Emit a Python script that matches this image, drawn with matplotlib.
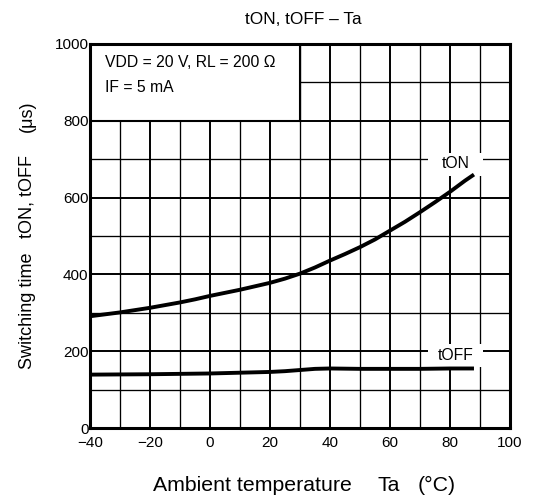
import matplotlib
matplotlib.use("Agg")
import matplotlib.pyplot as plt
from matplotlib.patches import Rectangle

plt.rcParams['font.family'] = ['Liberation Sans', 'DejaVu Sans']

# Data
ta = [-40, -35, -30, -25, -20, -15, -10, -5, 0, 5, 10, 15, 20, 25, 30, 35, 40,
      45, 50, 55, 60, 65, 70, 75, 80, 85, 88]
t_on = [291, 296, 301, 307, 313, 320, 327, 335, 344, 352, 360, 369, 378, 389, 402,
        418, 436, 453, 471, 491, 514, 537, 562, 588, 615, 644, 660]
ta_off = [-40, -20, 0, 10, 20, 25, 30, 35, 40, 50, 60, 70, 80, 88]
t_off = [139, 140, 142, 144, 146, 148, 151, 154, 155, 154, 154, 154, 155, 155]

xticks = [-40, -20, 0, 20, 40, 60, 80, 100]
xtick_labels = ['−40', '−20', '0', '20', '40', '60', '80', '100']
yticks = [0, 200, 400, 600, 800, 1000]

W, H = 534, 501
fig = plt.figure(figsize=(W / 100, H / 100), dpi=100)
ax = fig.add_axes([0.1685, 0.1457, 0.7865, 0.7665])
ax.set_xlim(-40, 100)
ax.set_ylim(0, 1000)

# grid
for x in range(-30, 100, 10):
    lw = 1.4 if x % 20 == 0 else 0.95
    ax.axvline(x, color='black', lw=lw, zorder=1)
for y in range(100, 1000, 100):
    lw = 1.4 if y % 200 == 0 else 0.95
    ax.axhline(y, color='black', lw=lw, zorder=1)

# condition box
ax.add_patch(Rectangle((-40, 800), 70, 200, facecolor='white', edgecolor='black',
                       lw=1.5, zorder=2))
fig.text(105 / W, 1 - 67 / H, 'VDD = 20 V, RL = 200 Ω', fontsize=11.3, va='baseline', ha='left', zorder=3)
fig.text(105 / W, 1 - 92 / H, 'IF = 5 mA', fontsize=11.3, va='baseline', ha='left', zorder=3)

ax.plot(ta, t_on, color='black', lw=2.8, zorder=4, solid_capstyle='butt')
ax.plot(ta_off, t_off, color='black', lw=2.8, zorder=4, solid_capstyle='butt')

# curve labels with white backgrounds
ax.add_patch(Rectangle((72.7, 657), 18.3, 60, facecolor='white', edgecolor='none', zorder=3))
ax.text(82, 688, 'tON', fontsize=11.3, ha='center', va='center', zorder=5)
ax.add_patch(Rectangle((72.7, 160), 18.3, 60, facecolor='white', edgecolor='none', zorder=3))
ax.text(82, 190, 'tOFF', fontsize=11.3, ha='center', va='center', zorder=5)

ax.set_xticks(xticks)
ax.set_xticklabels(xtick_labels)
ax.set_yticks(yticks)
ax.tick_params(axis='x', length=0, labelsize=11, pad=6)
ax.tick_params(axis='y', length=0, labelsize=11, pad=1)
for s in ax.spines.values():
    s.set_linewidth(2.2)
    s.set_zorder(6)

fig.text(245 / W, 1 - 24 / H, 'tON, tOFF – Ta', fontsize=12.4, ha='left', va='baseline')

# x label pieces
fig.text(153 / W, 1 - 491 / H, 'Ambient temperature', fontsize=15.3, ha='left', va='baseline')
fig.text(378 / W, 1 - 491 / H, 'Ta', fontsize=15.3, ha='left', va='baseline')
fig.text(418 / W, 1 - 491 / H, '(°C)', fontsize=15.3, ha='left', va='baseline')

# y label pieces
fig.text(27 / W, 1 - 311 / H, 'Switching time', fontsize=13, ha='center', va='center', rotation=90)
fig.text(27 / W, 1 - 197 / H, 'tON, tOFF', fontsize=13, ha='center', va='center', rotation=90)
fig.text(27 / W, 1 - 116 / H, '(μs)', fontsize=13, ha='center', va='center', rotation=90)

fig.savefig('out.png', dpi=100)
